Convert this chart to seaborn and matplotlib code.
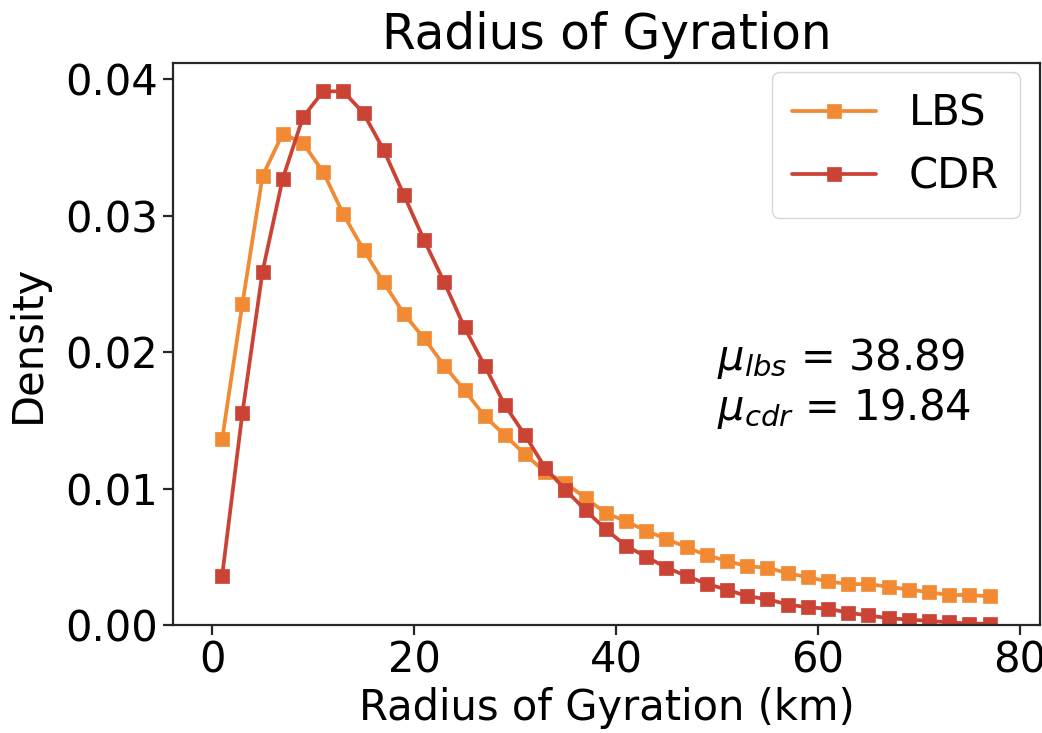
import numpy as np
import pandas as pd
import matplotlib
matplotlib.use("Agg")
import matplotlib.pyplot as plt
import seaborn as sns

# Bin centres of the radius-of-gyration histogram (km)
radius_km = [1, 3, 5, 7, 9, 11, 13, 15, 17, 19, 21, 23, 25, 27, 29, 31, 33, 35, 37, 39,
             41, 43, 45, 47, 49, 51, 53, 55, 57, 59, 61, 63, 65, 67, 69, 71, 73, 75, 77]

# Density per bin for location-based-service traces
lbs_density = [0.0136, 0.0235, 0.0329, 0.0360, 0.0353, 0.0332, 0.0301, 0.0275, 0.0251,
               0.0228, 0.0210, 0.0190, 0.0172, 0.0153, 0.0139, 0.0125, 0.0112, 0.0104,
               0.0093, 0.0082, 0.0076, 0.0069, 0.0063, 0.0057, 0.0051, 0.0047, 0.0043,
               0.0042, 0.0038, 0.0035, 0.0032, 0.0030, 0.0030, 0.0028, 0.0026, 0.0024,
               0.0022, 0.0022, 0.0021]

# Density per bin for call-detail-record traces
cdr_density = [0.0036, 0.0155, 0.0259, 0.0327, 0.0372, 0.0391, 0.0391, 0.0375, 0.0348,
               0.0315, 0.0282, 0.0251, 0.0218, 0.0190, 0.0161, 0.0139, 0.0115, 0.0099,
               0.0084, 0.0070, 0.0058, 0.0050, 0.0042, 0.0036, 0.0030, 0.0026, 0.0021,
               0.0019, 0.0015, 0.0013, 0.0012, 0.0009, 0.0007, 0.0005, 0.0004, 0.0003,
               0.0002, 0.0001, 0.0001]

series_labels = ["LBS", "CDR"]
series_colors = ["#F18A33", "#CB4335"]
mean_lbs = 38.89
mean_cdr = 19.84
y_ticks = [0.00, 0.01, 0.02, 0.03, 0.04]
x_ticks = [0, 20, 40, 60, 80]

sns.set_style("ticks", {"text.color": "black", "axes.labelcolor": "black",
                        "xtick.color": "#262626", "ytick.color": "#262626",
                        "axes.edgecolor": "#262626"})
plt.rcParams["font.family"] = ["DejaVu Sans"]
plt.rcParams["mathtext.fontset"] = "dejavusans"

fig = plt.figure(figsize=(10.42, 7.33), dpi=100)
ax = fig.add_axes([0.1657, 0.1473, 0.8325, 0.7672])

df = pd.DataFrame({
    "radius": radius_km * 2,
    "density": lbs_density + cdr_density,
    "source": [series_labels[0]] * len(radius_km) + [series_labels[1]] * len(radius_km),
})

for label, color in zip(series_labels, series_colors):
    sub = df[df["source"] == label]
    sns.lineplot(data=sub, x="radius", y="density", ax=ax, color=color,
                 marker="s", markersize=10.5, markeredgewidth=0.5,
                 markeredgecolor=color, linewidth=2.7, label=label)

ax.set_xlim(-3.9, 82.0)
ax.set_ylim(0, 0.0412)
ax.set_xticks(x_ticks)
ax.set_yticks(y_ticks)
ax.set_yticklabels([f"{v:.2f}" for v in y_ticks])

ax.tick_params(axis="both", labelsize=30, length=7, width=1.6, labelcolor="black")
for s in ax.spines.values():
    s.set_linewidth(1.6)

ax.set_xlabel("Radius of Gyration (km)", fontsize=30, labelpad=4)
ax.set_ylabel("Density", fontsize=30, labelpad=12)
ax.set_title("Radius of Gyration", fontsize=35, pad=10)

ax.text(50, 0.0177,
        rf"$\mu_{{lbs}}$ = {mean_lbs:.2f}" + "\n" + rf"$\mu_{{cdr}}$ = {mean_cdr:.2f}",
        fontsize=30, ha="left", va="center", linespacing=1.15)

leg = ax.legend(loc="upper right", bbox_to_anchor=(0.977, 0.984), borderaxespad=0,
                fontsize=30, frameon=True, fancybox=True,
                handlelength=2.0, borderpad=0.5, labelspacing=0.5)
leg.get_frame().set_edgecolor("#cccccc")

fig.savefig("out.png", dpi=100)
